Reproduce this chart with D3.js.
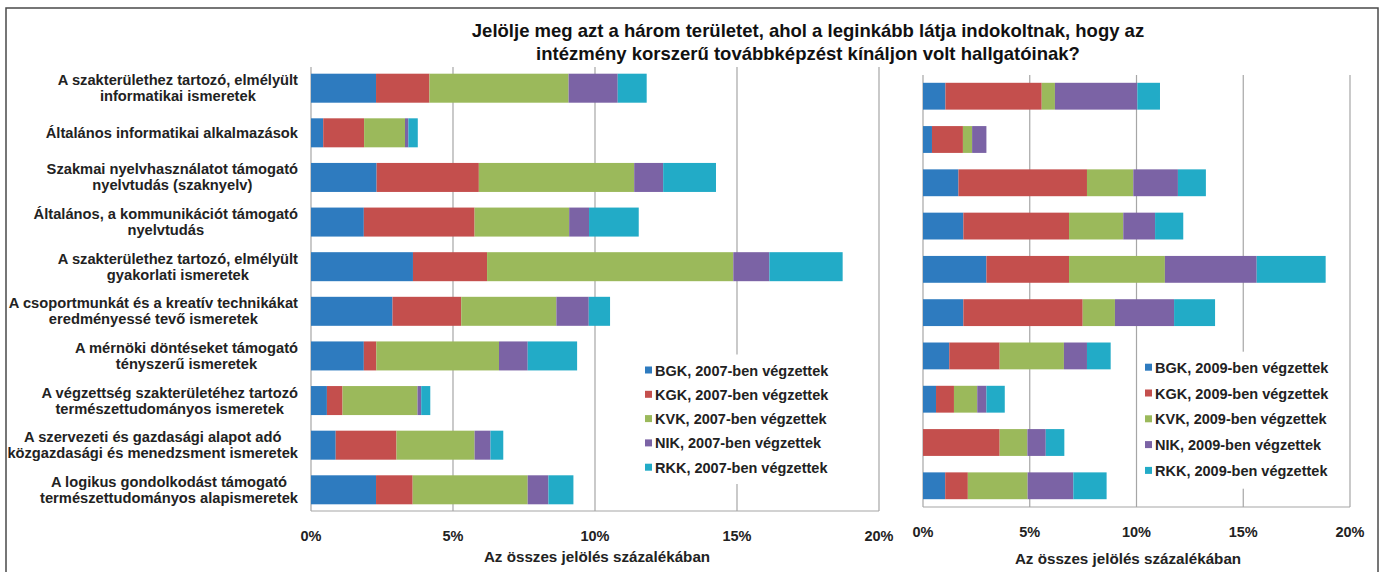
<!DOCTYPE html>
<html>
<head>
<meta charset="utf-8">
<script src="https://cdn.jsdelivr.net/npm/d3@7"></script>
<style>
    body { margin: 0; background: #fff; }
    text { font-family: "Liberation Sans", Arial, sans-serif; font-weight: bold; }
</style>
</head>
<body>
<div id="chart"></div>
<script>
// categories (line breaks as in the original labels)
let categories = [
    'A szakterülethez tartozó, elmélyült\ninformatikai ismeretek',
    'Általános informatikai alkalmazások',
    'Szakmai nyelvhasználatot támogató\nnyelvtudás (szaknyelv)',
    'Általános, a kommunikációt támogató\nnyelvtudás',
    'A szakterülethez tartozó, elmélyült\ngyakorlati ismeretek',
    'A csoportmunkát és a kreatív technikákat\neredményessé tevő ismeretek',
    'A mérnöki döntéseket támogató\ntényszerű ismeretek',
    'A végzettség szakterületéhez tartozó\ntermészettudományos ismeretek',
    'A szervezeti és gazdasági alapot adó\nközgazdasági és menedzsment ismeretek',
    'A logikus gondolkodást támogató\ntermészettudományos alapismeretek'
];

let faculties = ['BGK', 'KGK', 'KVK', 'NIK', 'RKK'];

// 2007-ben végzettek, % of all marks
let bgk2007 = [2.29, 0.43, 2.31, 1.86, 3.59, 2.87, 1.86, 0.56, 0.87, 2.29];
let kgk2007 = [1.88, 1.44, 3.60, 3.90, 2.61, 2.42, 0.44, 0.55, 2.14, 1.29];
let kvk2007 = [4.90, 1.44, 5.47, 3.33, 8.67, 3.35, 4.32, 2.64, 2.75, 4.05];
let nik2007 = [1.73, 0.12, 1.02, 0.70, 1.27, 1.14, 1.01, 0.13, 0.56, 0.73];
let rkk2007 = [1.02, 0.33, 1.86, 1.75, 2.58, 0.75, 1.74, 0.32, 0.45, 0.88];

// 2009-ben végzettek
let bgk2009 = [1.05, 0.42, 1.66, 1.89, 2.97, 1.89, 1.23, 0.61, 0.00, 1.04];
let kgk2009 = [4.51, 1.45, 6.02, 4.95, 3.87, 5.59, 2.36, 0.84, 3.59, 1.06];
let kvk2009 = [0.62, 0.43, 2.17, 2.54, 4.49, 1.51, 3.01, 1.09, 1.30, 2.80];
let nik2009 = [3.86, 0.67, 2.09, 1.49, 4.30, 2.77, 1.08, 0.43, 0.86, 2.14];
let rkk2009 = [1.06, 0.00, 1.31, 1.32, 3.23, 1.92, 1.11, 0.86, 0.87, 1.56];

let xTicks = [0, 5, 10, 15, 20];
let titleLines = [
    'Jelölje meg azt a három területet, ahol a leginkább látja indokoltnak, hogy az',
    'intézmény korszerű továbbképzést kínáljon volt hallgatóinak?'
];
let axisTitle = 'Az összes jelölés százalékában';

let colors = ['#2e7bbf', '#c44f4d', '#9bb95b', '#7b63a5', '#22abc7'];

let width = 1384;
let height = 572;

let svg = d3.select('#chart')
    .append('svg')
    .attr('width', width)
    .attr('height', height);

// outer frame
svg.append('rect')
    .attr('x', 6)
    .attr('y', 8)
    .attr('width', 1372)
    .attr('height', 580)
    .attr('fill', 'none')
    .attr('stroke', '#4a4a4a')
    .attr('stroke-width', 1.5);

svg.append('g')
    .selectAll('text')
    .data(titleLines)
    .join('text')
    .attr('x', 808)
    .attr('y', (d, i) => 37 + i * 23)
    .attr('text-anchor', 'middle')
    .attr('font-size', 18.5)
    .attr('fill', '#111')
    .text(d => d);

function toRows(series) {
    return categories.map((c, i) => {
        let row = { cat: c };
        faculties.forEach((f, j) => row[f] = series[j][i]);
        return row;
    });
}

function drawPanel(opts) {
    let { series, year, x0, x1, top, bottom, padInner, padOuter, tickY, titleY, titleX, legend } = opts;

    let xScale = d3.scaleLinear().domain([0, 20]).range([x0, x1]);
    let yScale = d3.scaleBand()
        .domain(categories)
        .range([top, bottom])
        .paddingInner(padInner)
        .paddingOuter(padOuter);

    let g = svg.append('g');

    // gridlines
    g.append('g')
        .selectAll('line')
        .data(xTicks.slice(1))
        .join('line')
        .attr('x1', d => xScale(d))
        .attr('x2', d => xScale(d))
        .attr('y1', top)
        .attr('y2', bottom)
        .attr('stroke', '#a6a6a6')
        .attr('stroke-width', 1.2);

    // axes lines
    g.append('line')
        .attr('x1', x0).attr('x2', x0)
        .attr('y1', top).attr('y2', bottom)
        .attr('stroke', '#a6a6a6')
        .attr('stroke-width', 1.2);
    g.append('line')
        .attr('x1', x0).attr('x2', x1)
        .attr('y1', bottom).attr('y2', bottom)
        .attr('stroke', '#a6a6a6')
        .attr('stroke-width', 1.2);

    let stacked = d3.stack().keys(faculties)(toRows(series));

    g.append('g')
        .selectAll('g')
        .data(stacked)
        .join('g')
        .attr('fill', (d, i) => colors[i])
        .selectAll('rect')
        .data(d => d)
        .join('rect')
        .attr('x', d => xScale(d[0]))
        .attr('y', d => yScale(d.data.cat))
        .attr('width', d => xScale(d[1]) - xScale(d[0]))
        .attr('height', yScale.bandwidth());

    // tick labels
    g.append('g')
        .selectAll('text')
        .data(xTicks)
        .join('text')
        .attr('x', d => xScale(d))
        .attr('y', tickY)
        .attr('text-anchor', 'middle')
        .attr('font-size', 14.5)
        .attr('fill', '#222')
        .text(d => d + '%');

    g.append('text')
        .attr('x', titleX)
        .attr('y', titleY)
        .attr('text-anchor', 'middle')
        .attr('font-size', 15.2)
        .attr('fill', '#222')
        .text(axisTitle);

    // legend with white background
    let lg = g.append('g');
    lg.append('rect')
        .attr('x', legend.x - 5)
        .attr('y', legend.y - 16)
        .attr('width', legend.w)
        .attr('height', legend.step * 5 + 8)
        .attr('fill', '#fff');
    let items = lg.selectAll('g')
        .data(faculties)
        .join('g')
        .attr('transform', (d, i) => `translate(${legend.x}, ${legend.y + i * legend.step})`);
    items.append('rect')
        .attr('x', 0)
        .attr('y', -4)
        .attr('width', 7)
        .attr('height', 7)
        .attr('fill', (d, i) => colors[i]);
    items.append('text')
        .attr('x', 10)
        .attr('y', 5)
        .attr('font-size', 14.5)
        .attr('fill', '#222')
        .text(d => `${d}, ${year}-ben végzettek`);

    return yScale;
}

let yLeft = drawPanel({
    series: [bgk2007, kgk2007, kvk2007, nik2007, rkk2007],
    year: 2007,
    x0: 311, x1: 879, top: 67, bottom: 511,
    padInner: 0.35, padOuter: 0.15,
    tickY: 541, titleY: 562, titleX: 597,
    legend: { x: 645, y: 370.5, step: 24.3, w: 192 }
});

drawPanel({
    series: [bgk2009, kgk2009, kvk2009, nik2009, rkk2009],
    year: 2009,
    x0: 923, x1: 1350, top: 75, bottom: 507,
    padInner: 0.38, padOuter: 0.18,
    tickY: 537, titleY: 564, titleX: 1128,
    legend: { x: 1145, y: 367.7, step: 25.8, w: 192 }
});

// category labels: block right-aligned, lines centred within the block
let labelRight = 298;
let lineH = 16;
let labels = svg.append('g')
    .selectAll('g')
    .data(categories)
    .join('g');

labels.each(function (cat) {
    let lines = cat.split('\n');
    let cy = yLeft(cat) + yLeft.bandwidth() / 2;
    let texts = d3.select(this)
        .selectAll('text')
        .data(lines)
        .join('text')
        .attr('y', (d, i) => cy + 5 + (i - (lines.length - 1) / 2) * lineH)
        .attr('text-anchor', 'middle')
        .attr('font-size', 14.7)
        .attr('fill', '#222')
        .text(d => d);
    let maxW = d3.max(texts.nodes(), n => n.getComputedTextLength());
    texts.attr('x', labelRight - maxW / 2);
});
</script>
</body>
</html>
